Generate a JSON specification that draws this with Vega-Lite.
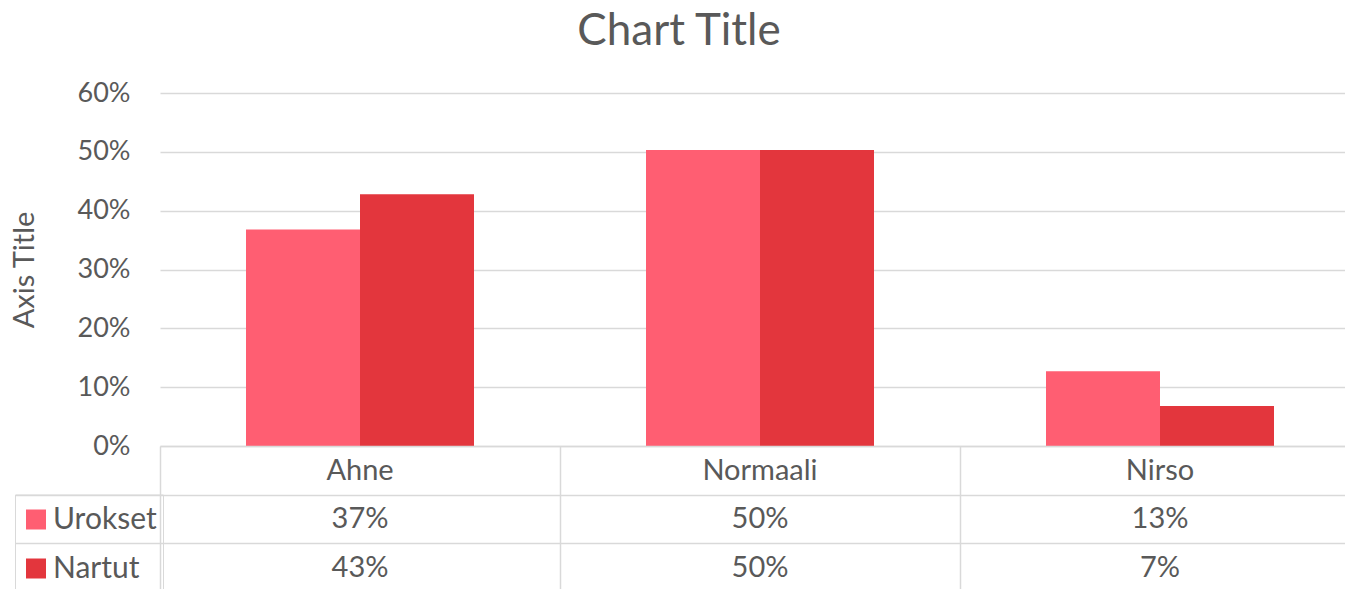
{
  "$schema": "https://vega.github.io/schema/vega-lite/v6.json",
  "padding": {"left": 10, "top": 10, "right": 0, "bottom": 0},
  "background": "white",
  "title": {"text": "Chart Title", "font": "Lato", "fontSize": 44, "fontWeight": "normal", "color": "#595959", "anchor": "middle", "offset": 25, "dx": -6},
  "data": {"values": [
    {"cat": "Ahne", "series": "Urokset", "value": 0.368},
    {"cat": "Ahne", "series": "Nartut", "value": 0.428},
    {"cat": "Normaali", "series": "Urokset", "value": 0.503},
    {"cat": "Normaali", "series": "Nartut", "value": 0.503},
    {"cat": "Nirso", "series": "Urokset", "value": 0.127},
    {"cat": "Nirso", "series": "Nartut", "value": 0.068}
  ]},
  "spacing": 0,
  "bounds": "flush",
  "resolve": {"scale": {"x": "independent", "y": "independent", "color": "independent"}, "legend": {"color": "independent"}},
  "vconcat": [
    {
      "width": 1200,
      "height": 353,
      "mark": {"type": "bar"},
      "encoding": {
        "x": {"field": "cat", "type": "nominal", "sort": ["Ahne", "Normaali", "Nirso"], "scale": {"paddingInner": 0.43, "paddingOuter": 0.215}, "axis": null},
        "xOffset": {"field": "series", "type": "nominal", "sort": ["Urokset", "Nartut"]},
        "y": {"field": "value", "type": "quantitative", "scale": {"domain": [0, 0.6], "nice": false},
          "axis": {"format": ".0%", "values": [0, 0.1, 0.2, 0.3, 0.4, 0.5, 0.6], "title": "Axis Title", "grid": true, "gridColor": "#d9d9d9", "gridWidth": 1.5, "domain": false, "ticks": false, "tickSize": 0, "labelPadding": 30, "labelFont": "Lato", "labelFontSize": 27, "labelColor": "#595959", "titleFont": "Lato", "titleFontSize": 29, "titleFontWeight": "normal", "titleColor": "#595959", "titlePadding": 38}},
        "color": {"field": "series", "type": "nominal", "scale": {"domain": ["Urokset", "Nartut"], "range": ["#ff5e72", "#e3363d"]}, "legend": null}
      }
    },
    {
      "width": 1200,
      "height": 146,
      "encoding": {
        "x": {"field": "cat", "type": "nominal", "sort": ["Ahne", "Normaali", "Nirso"], "scale": {"paddingInner": 0, "paddingOuter": 0},
          "axis": {"grid": true, "tickBand": "extent", "labels": false, "ticks": false, "domain": false, "title": null, "gridColor": "#d9d9d9", "gridWidth": 1.5}}
      },
      "layer": [
        {
          "transform": [{"filter": "datum.series === 'Urokset'"}],
          "mark": {"type": "text", "font": "Lato", "fontSize": 29, "color": "#595959", "dy": 1},
          "encoding": {
            "y": {"datum": "cat", "type": "nominal", "scale": {"domain": ["cat", "Urokset", "Nartut"], "paddingInner": 0, "paddingOuter": 0},
              "axis": {"labels": false, "domain": false, "title": null, "tickBand": "extent", "tickSize": 145, "tickWidth": 1.5,
                "tickColor": {"condition": {"test": "datum.extra", "value": "transparent"}, "value": "#d9d9d9"},
                "grid": true, "gridWidth": 1.5, "gridColor": "#d9d9d9"}},
            "text": {"field": "cat"}
          }
        },
        {
          "mark": {"type": "text", "font": "Lato", "fontSize": 29, "color": "#595959"},
          "encoding": {
            "y": {"field": "series", "type": "nominal", "scale": {"domain": ["cat", "Urokset", "Nartut"]}},
            "text": {"field": "value", "type": "quantitative", "format": ".0%"}
          }
        },
        {
          "mark": {"type": "text", "text": ""},
          "encoding": {
            "y": {"field": "series", "type": "nominal", "scale": {"domain": ["cat", "Urokset", "Nartut"]}},
            "color": {"field": "series", "type": "nominal", "scale": {"domain": ["Urokset", "Nartut"], "range": ["#ff5e72", "#e3363d"]},
              "legend": {"orient": "none", "legendX": -145, "legendY": 48.5, "title": " ", "titleFontSize": 1, "titlePadding": 3, "direction": "vertical", "symbolType": "square", "symbolSize": 400, "symbolStrokeWidth": 0, "symbolOpacity": 1,
                "labelFont": "Lato", "labelFontSize": 30, "labelColor": "#595959", "labelOffset": 2, "rowPadding": 19, "padding": 6, "strokeColor": "#d9d9d9"}}
          }
        }
      ]
    }
  ],
  "config": {"view": {"stroke": null}}
}
